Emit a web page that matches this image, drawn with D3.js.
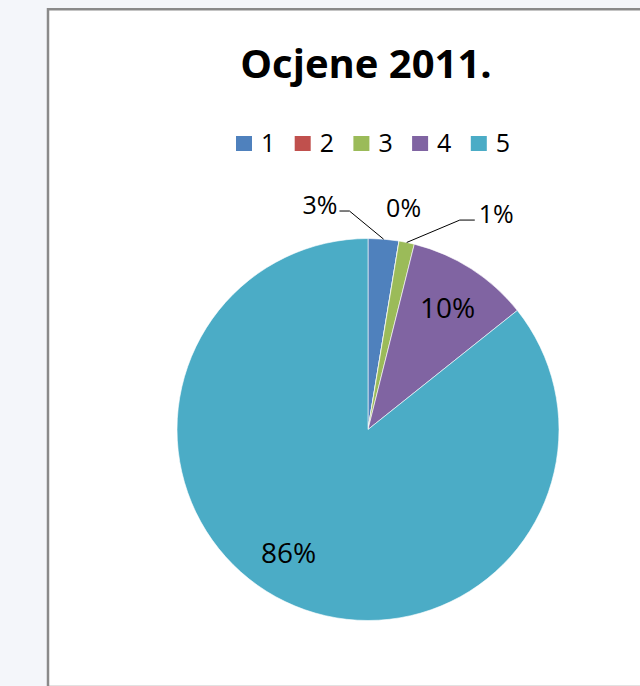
<!DOCTYPE html>
<html>
<head>
    <meta charset="utf-8">
    <title>Ocjene 2011.</title>
    <script src="https://d3js.org/d3.v7.min.js"></script>
    <style type="text/css">
        body{ margin:0; background:#f4f6fa; }
        svg text{ font-family: "Open Sans", "Noto Sans", sans-serif; fill:#000; }
    </style>
</head>
<body>
<script>
    var w = 640;
    var h = 686;

    // podaci
    var categories = ["1", "2", "3", "4", "5"];
    var counts = [2, 0, 1, 8, 66];
    var pctLabels = ["3%", "0%", "1%", "10%", "86%"];
    var colors = ["#4f81bd", "#c0504d", "#9bbb59", "#8064a2", "#4bacc6"];
    // gdje stoje oznake: [kut u stupnjevima, udaljenost od sredista]
    var labelSpots = [[-12, 231], [9.1, 225], [30.6, 252], [33, 146], [213, 146]];

    var cx = 368, cy = 429.5, r = 191;

    var svg = d3.select("body")
                .append("svg")
                .attr("width", w)
                .attr("height", h);

    // okvir grafikona
    svg.append("rect")
        .attr("x", 48).attr("y", 9)
        .attr("width", w).attr("height", 676)
        .attr("fill", "#fff");
    svg.append("line")
        .attr("x1", 48).attr("y1", 685.5).attr("x2", w).attr("y2", 685.5)
        .attr("stroke", "#e2e2e2");
    svg.append("line")
        .attr("x1", 48).attr("y1", 8).attr("x2", 48).attr("y2", 686)
        .attr("stroke", "#8a8a8a").attr("stroke-width", 2.5);
    svg.append("line")
        .attr("x1", 47).attr("y1", 9.2).attr("x2", w).attr("y2", 9.2)
        .attr("stroke", "#8a8a8a").attr("stroke-width", 2.5);

    svg.append("text")
        .attr("x", 366).attr("y", 78)
        .attr("text-anchor", "middle")
        .attr("font-size", "40px")
        .attr("font-weight", "bold")
        .text("Ocjene 2011.");

    // legenda
    var legend = svg.selectAll(".leg")
        .data(categories)
        .enter()
        .append("g")
        .attr("class", "leg")
        .attr("transform", function(d, i){ return "translate(" + (236 + i*58.7) + ",136)"; });
    legend.append("rect")
        .attr("width", 16).attr("height", 15)
        .attr("fill", function(d, i){ return colors[i]; });
    legend.append("text")
        .attr("x", 25).attr("y", 15.5)
        .attr("font-size", "25px")
        .text(function(d){ return d; });

    var pie = d3.pie().sort(null).value(function(d){ return d; });
    var arcs = pie(counts);
    var arc = d3.arc().innerRadius(0).outerRadius(r);

    var g = svg.append("g").attr("transform", "translate(" + cx + "," + cy + ")");
    g.selectAll("path")
        .data(arcs)
        .enter()
        .append("path")
        .attr("d", arc)
        .attr("fill", function(d, i){ return colors[i]; })
        .attr("stroke", "#fff")
        .attr("stroke-width", 0.6);

    function polar(deg, rad){
        var a = deg * Math.PI / 180;
        return [rad * Math.sin(a), -rad * Math.cos(a)];
    }

    var labels = g.selectAll(".lbl")
        .data(arcs)
        .enter()
        .append("text")
        .attr("class", "lbl")
        .attr("text-anchor", "middle")
        .attr("dominant-baseline", "central")
        .attr("font-size", function(d, i){ return labelSpots[i][1] > r ? "25px" : "28px"; })
        .attr("x", function(d, i){ return polar(labelSpots[i][0], labelSpots[i][1])[0]; })
        .attr("y", function(d, i){ return polar(labelSpots[i][0], labelSpots[i][1])[1]; })
        .text(function(d, i){ return pctLabels[i]; });

    // linije do isjecaka (samo vanjske oznake, bez nule)
    labels.each(function(d, i){
        if (labelSpots[i][1] <= r || d.value === 0) return;
        var b = this.getBBox();
        var mid = (d.startAngle + d.endAngle) / 2;
        var tip = [r * Math.sin(mid), -r * Math.cos(mid)];
        var y0 = b.y + b.height * 0.72;
        var pts;
        if (b.x + b.width/2 < tip[0]) {
            pts = [[b.x + b.width + 2, y0], [b.x + b.width + 12, y0], tip];
        } else {
            pts = [[b.x - 4, y0], [b.x - 19, y0], tip];
        }
        g.append("path")
            .attr("d", d3.line()(pts))
            .attr("fill", "none")
            .attr("stroke", "#000")
            .attr("stroke-width", 1);
    });
</script>
</body>
</html>
